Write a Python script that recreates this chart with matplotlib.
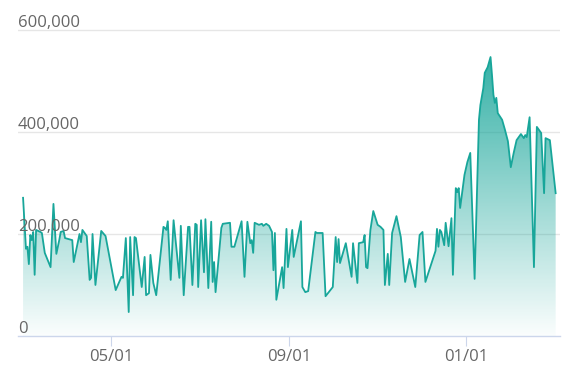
import numpy as np
import pandas as pd
import matplotlib
matplotlib.use("Agg")
import matplotlib.pyplot as plt
import matplotlib.dates as mdates
from matplotlib.colors import LinearSegmentedColormap

# days since 2020-03-01 and the value
day_offset = [0, 2, 3, 4, 5, 6, 7, 8, 9, 12, 13, 15, 19, 21, 23, 25, 26, 28, 29, 34,
              35, 39, 40, 41, 44, 46, 47, 48, 50, 54, 57, 64, 68, 69, 71, 73, 74, 76, 77, 78,
              82, 84, 85, 87, 88, 90, 92, 97, 98, 99, 100, 102, 104, 108, 109, 111, 114, 115, 117, 119,
              120, 121, 123, 125, 126, 128, 130, 131, 132, 133, 137, 138, 143, 144, 146, 151, 153, 155, 157, 158,
              159, 160, 163, 165, 166, 168, 170, 172, 173, 174, 175, 179, 180, 182, 183, 186, 187, 192, 193, 195,
              197, 202, 203, 207, 209, 214, 216, 217, 218, 219, 223, 227, 228, 231, 232, 235, 236, 237, 238, 240,
              242, 245, 247, 249, 250, 252, 253, 255, 258, 261, 264, 267, 271, 274, 276, 278, 285, 286, 287, 288,
              289, 291, 292, 294, 296, 297, 299, 300, 301, 302, 305, 307, 309, 312, 315, 316, 318, 319, 321, 323,
              324, 325, 326, 327, 328, 331, 333, 335, 337, 339, 341, 344, 346, 347, 348, 350, 353, 355, 358, 360,
              361, 364, 368]
volume_k = [271, 171, 175, 141, 198, 188, 204, 120, 208, 204, 202, 163, 135, 259, 161, 188, 204, 206, 192, 188,
            145, 200, 184, 208, 196, 110, 114, 200, 100, 206, 196, 90, 116, 114, 192, 47, 194, 80, 194, 192,
            96, 155, 80, 84, 159, 104, 80, 214, 212, 208, 225, 110, 227, 114, 216, 80, 214, 214, 100, 220,
            218, 96, 227, 125, 229, 94, 224, 106, 145, 86, 212, 220, 222, 175, 175, 225, 116, 224, 182, 188,
            163, 222, 218, 220, 216, 220, 216, 204, 129, 202, 71, 135, 94, 210, 135, 208, 155, 225, 96, 86,
            88, 204, 202, 202, 78, 96, 194, 145, 190, 143, 182, 116, 182, 104, 182, 184, 198, 135, 133, 208,
            245, 218, 214, 208, 100, 161, 100, 202, 235, 194, 106, 151, 96, 198, 204, 106, 167, 210, 175, 208,
            204, 178, 222, 176, 231, 120, 290, 282, 290, 251, 316, 341, 359, 112, 424, 453, 486, 516, 527, 547,
            512, 473, 457, 467, 437, 424, 404, 382, 331, 359, 384, 396, 388, 394, 390, 429, 135, 410, 398, 280,
            388, 384, 280]
tick_dates = ["2020-05-01", "2020-09-01", "2021-01-01"]
y_ticks = [0, 200000, 400000, 600000]

start = pd.Timestamp("2020-03-01")
dates = start + pd.to_timedelta(day_offset, unit="D")
x = mdates.date2num(dates.to_pydatetime())
values = np.array(volume_k) * 1000

teal = "#18a69a"

fig = plt.figure(figsize=(5.67, 3.85), dpi=100)
ax = fig.add_axes([18 / 567, 1 - 336 / 385, (560 - 18) / 567, (336 - 19.8) / 385])

xmin = mdates.date2num(start) - 3.5
xmax = mdates.date2num(start) + 371
ax.set_xlim(xmin, xmax)
ax.set_ylim(0, 620000)

# gradient fill under the line
poly = ax.fill_between(x, values, 0, color="none", lw=0)
cmap = LinearSegmentedColormap.from_list(
    "tealfade", [(0.09, 0.65, 0.6, 0.02), (0.09, 0.65, 0.6, 0.95)])
grad = np.linspace(0, 1, 256).reshape(-1, 1)
im = ax.imshow(grad, cmap=cmap, aspect="auto", origin="lower",
               extent=(xmin, xmax, 0, 600000), zorder=1)
im.set_clip_path(poly.get_paths()[0], transform=ax.transData)

ax.plot(x, values, color=teal, lw=1.3, zorder=3)

# grid and axes
ax.set_yticks(y_ticks[1:])
ax.yaxis.grid(True, color="#e6e6e6", lw=1)
ax.tick_params(axis="y", left=False, labelleft=False)
ax.set_axisbelow(True)
for s in ["top", "right", "left"]:
    ax.spines[s].set_visible(False)
ax.spines["bottom"].set_color("#ccd6eb")
ax.spines["bottom"].set_linewidth(1)

for v in y_ticks:
    ax.annotate(f"{v:,}", xy=(0, v), xycoords=ax.get_yaxis_transform(),
                xytext=(0, -0.5), textcoords="offset points", ha="left", va="bottom",
                fontsize=12, color="#666666", family="Open Sans")

ax.set_xticks(mdates.date2num(pd.to_datetime(tick_dates).to_pydatetime()))
ax.xaxis.set_major_formatter(mdates.DateFormatter("%m/%d"))
ax.tick_params(axis="x", length=7.5, width=0.8, color="#ccd6eb", pad=2,
               labelsize=12, labelcolor="#666666")
for lab in ax.get_xticklabels():
    lab.set_family("Open Sans")

fig.savefig("out.png", dpi=100)
